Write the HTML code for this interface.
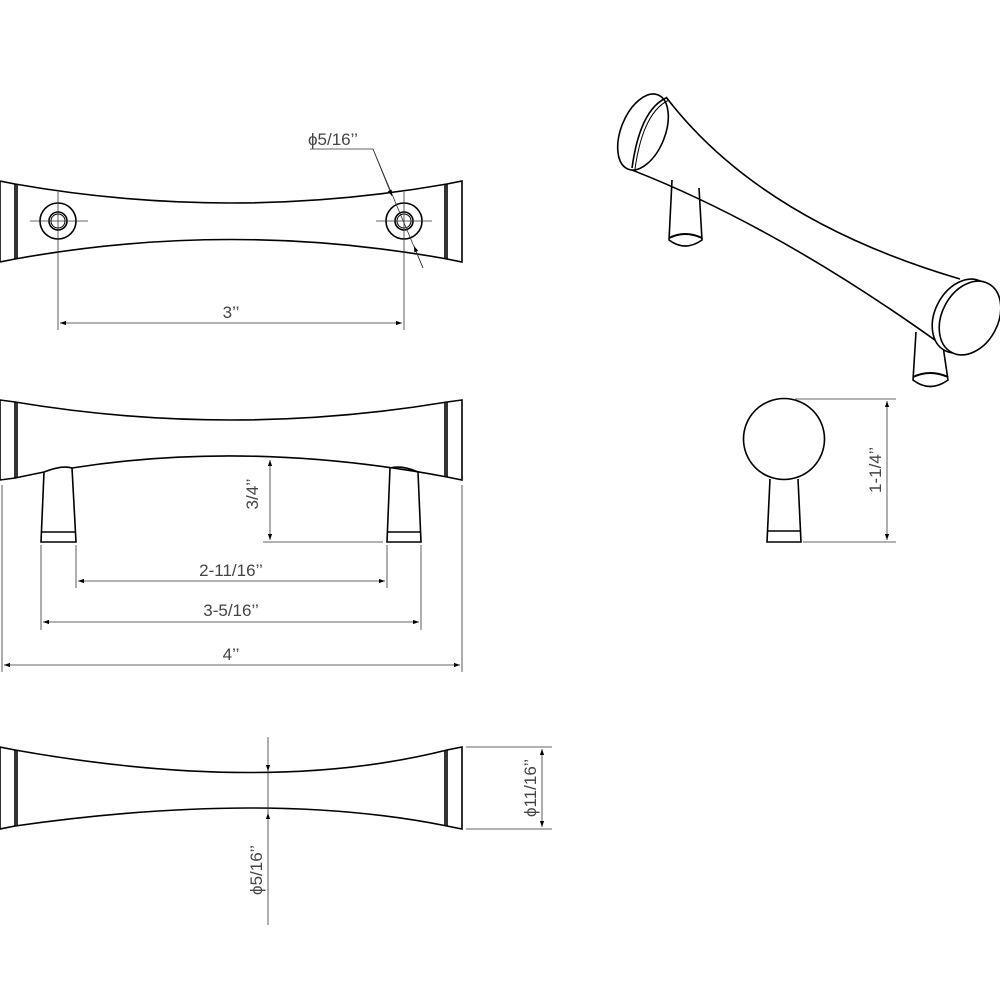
<!DOCTYPE html>
<html><head><meta charset="utf-8"><style>
html,body{margin:0;padding:0;background:#fff;}
svg{display:block;}
text{font-family:"Liberation Sans","DejaVu Sans",sans-serif;fill:#444;font-size:17px;}
</style></head><body>
<svg width="1000" height="1000" viewBox="0 0 1000 1000" xmlns="http://www.w3.org/2000/svg">
<defs>
<marker id="a" viewBox="0 0 10 10" refX="10" refY="5" markerWidth="12" markerHeight="6" orient="auto-start-reverse" markerUnits="userSpaceOnUse"><path d="M0,1.5 L10,5 L0,8.5Z" fill="#000"/></marker>
</defs>
<g fill="none" stroke="#000" stroke-width="1.6">
<!-- TOP VIEW -->
<path d="M0,181 L15,184 Q231,222 447,184 L462,181 L462,262 L447,259 Q231,220 15,259 L0,262"/>
<line x1="0" y1="181" x2="0" y2="262"/>
<line x1="15" y1="184" x2="15" y2="259"/><line x1="17" y1="184" x2="17" y2="259"/>
<line x1="445" y1="184" x2="445" y2="259"/><line x1="447" y1="184" x2="447" y2="259"/>
<circle cx="58" cy="221" r="18"/><circle cx="58" cy="221" r="9"/><circle cx="58" cy="221" r="7" stroke-width="1"/>
<circle cx="404" cy="221" r="18"/><circle cx="404" cy="221" r="9"/><circle cx="404" cy="221" r="7" stroke-width="1"/>
</g>
<g fill="none" stroke="#333" stroke-width="0.8">
<line x1="30" y1="221" x2="88" y2="221"/><line x1="58" y1="192" x2="58" y2="330"/>
<line x1="376" y1="221" x2="432" y2="221"/><line x1="404" y1="192" x2="404" y2="330"/>
<line x1="60" y1="323" x2="402" y2="323" marker-start="url(#a)" marker-end="url(#a)"/>
<polyline points="310,149 373,149 423,268"/>
<line x1="373" y1="149" x2="392" y2="196" marker-end="url(#a)"/>
<line x1="423" y1="268" x2="414" y2="246" marker-end="url(#a)"/>
</g>
<text x="231" y="318" text-anchor="middle">3’’</text>
<text x="308" y="145">ϕ5/16’’</text>

<!-- FRONT VIEW -->
<g fill="none" stroke="#000" stroke-width="1.6">
<path d="M0,400 L15,402 Q231,438 447,402 L462,400 L462,480 L447,477 Q250,440 72,468 Q62,465 44,472 L15,478 L0,480 Z"/>
<line x1="15" y1="402" x2="15" y2="478"/><line x1="17" y1="402" x2="17" y2="478"/>
<line x1="445" y1="402" x2="445" y2="477"/><line x1="447" y1="402" x2="447" y2="477"/>
<path d="M44,472 L41,542 L76,542 L72,468"/><line x1="42" y1="532" x2="75" y2="532"/>
<path d="M390,468 Q402,465 418,472 L421,542 L387,542 Z"/><line x1="388" y1="532" x2="420" y2="532"/>
</g>
<g fill="none" stroke="#333" stroke-width="0.8">
<line x1="270" y1="460" x2="270" y2="540" marker-start="url(#a)" marker-end="url(#a)"/>
<line x1="263" y1="542" x2="383" y2="542"/>
<line x1="76" y1="545" x2="76" y2="588"/><line x1="387" y1="545" x2="387" y2="588"/>
<line x1="78" y1="581" x2="385" y2="581" marker-start="url(#a)" marker-end="url(#a)"/>
<line x1="41" y1="545" x2="41" y2="630"/><line x1="421" y1="545" x2="421" y2="630"/>
<line x1="43" y1="622" x2="419" y2="622" marker-start="url(#a)" marker-end="url(#a)"/>
<line x1="2" y1="485" x2="2" y2="672"/><line x1="462" y1="485" x2="462" y2="672"/>
<line x1="4" y1="665" x2="460" y2="665" marker-start="url(#a)" marker-end="url(#a)"/>
</g>
<text x="264" y="500" text-anchor="middle" transform="rotate(-90 258 500)">3/4’’</text>
<text x="231" y="576" text-anchor="middle">2-11/16’’</text>
<text x="231" y="616" text-anchor="middle">3-5/16’’</text>
<text x="231" y="660" text-anchor="middle">4’’</text>

<!-- BOTTOM VIEW -->
<g fill="none" stroke="#000" stroke-width="1.6">
<path d="M0,747 L15,750 Q268,795 447,750 L462,747 L462,829 L447,826 Q268,790 15,826 L0,829 Z"/>
<line x1="15" y1="750" x2="15" y2="826"/><line x1="17" y1="750" x2="17" y2="826"/>
<line x1="445" y1="750" x2="445" y2="826"/><line x1="447" y1="750" x2="447" y2="826"/>
</g>
<g fill="none" stroke="#333" stroke-width="0.8">
<line x1="268" y1="737" x2="268" y2="771" marker-end="url(#a)"/>
<line x1="268" y1="925" x2="268" y2="813" marker-end="url(#a)"/>
<line x1="268" y1="771" x2="268" y2="813"/>
<line x1="466" y1="747" x2="552" y2="747"/><line x1="466" y1="829" x2="552" y2="829"/>
<line x1="542" y1="749" x2="542" y2="827" marker-start="url(#a)" marker-end="url(#a)"/>
</g>
<text x="256" y="870" text-anchor="middle" transform="rotate(-90 256 870)" dy="6">ϕ5/16’’</text>
<text x="530" y="788" text-anchor="middle" transform="rotate(-90 530 788)" dy="6">ϕ11/16’’</text>

<!-- ISOMETRIC -->
<g fill="none" stroke="#000" stroke-width="1.6">
<path d="M672,180 L669,240 Q685,252 702,240 L699,188"/>
<path d="M669,238 Q685,230 702,238" stroke-width="2"/>
<path d="M916,332 L913,380 Q930,393 948,380 L943,346"/>
<path d="M913,377 Q930,369 948,377" stroke-width="2"/>
<path d="M666,97 Q760,220 960,279"/>
<path d="M632,170 Q780,228 946,348"/>
<ellipse cx="643" cy="132" rx="22" ry="40" transform="rotate(22 643 132)" fill="#fff"/>
<path d="M666,98 Q640,110 632,168" fill="none"/>
<path d="M669,100 Q643,112 635,169" fill="none" stroke-width="1"/>
<ellipse cx="963" cy="316" rx="28" ry="39" transform="rotate(28 963 316)" fill="#fff"/>
<ellipse cx="970" cy="318" rx="28" ry="39" transform="rotate(28 970 318)" fill="#fff"/>
<!-- side knob -->
<circle cx="784" cy="439" r="40.5"/>
<path d="M770,479 L767,542 L801,542 L798,479"/>
<line x1="768" y1="531" x2="800" y2="531"/>
</g>
<g fill="none" stroke="#333" stroke-width="0.8">
<line x1="795" y1="399" x2="896" y2="399"/><line x1="803" y1="542" x2="896" y2="542"/>
<line x1="887" y1="401" x2="887" y2="540" marker-start="url(#a)" marker-end="url(#a)"/>
</g>
<text x="875" y="470" text-anchor="middle" transform="rotate(-90 875 470)" dy="6">1-1/4’’</text>
</svg>
</body></html>
